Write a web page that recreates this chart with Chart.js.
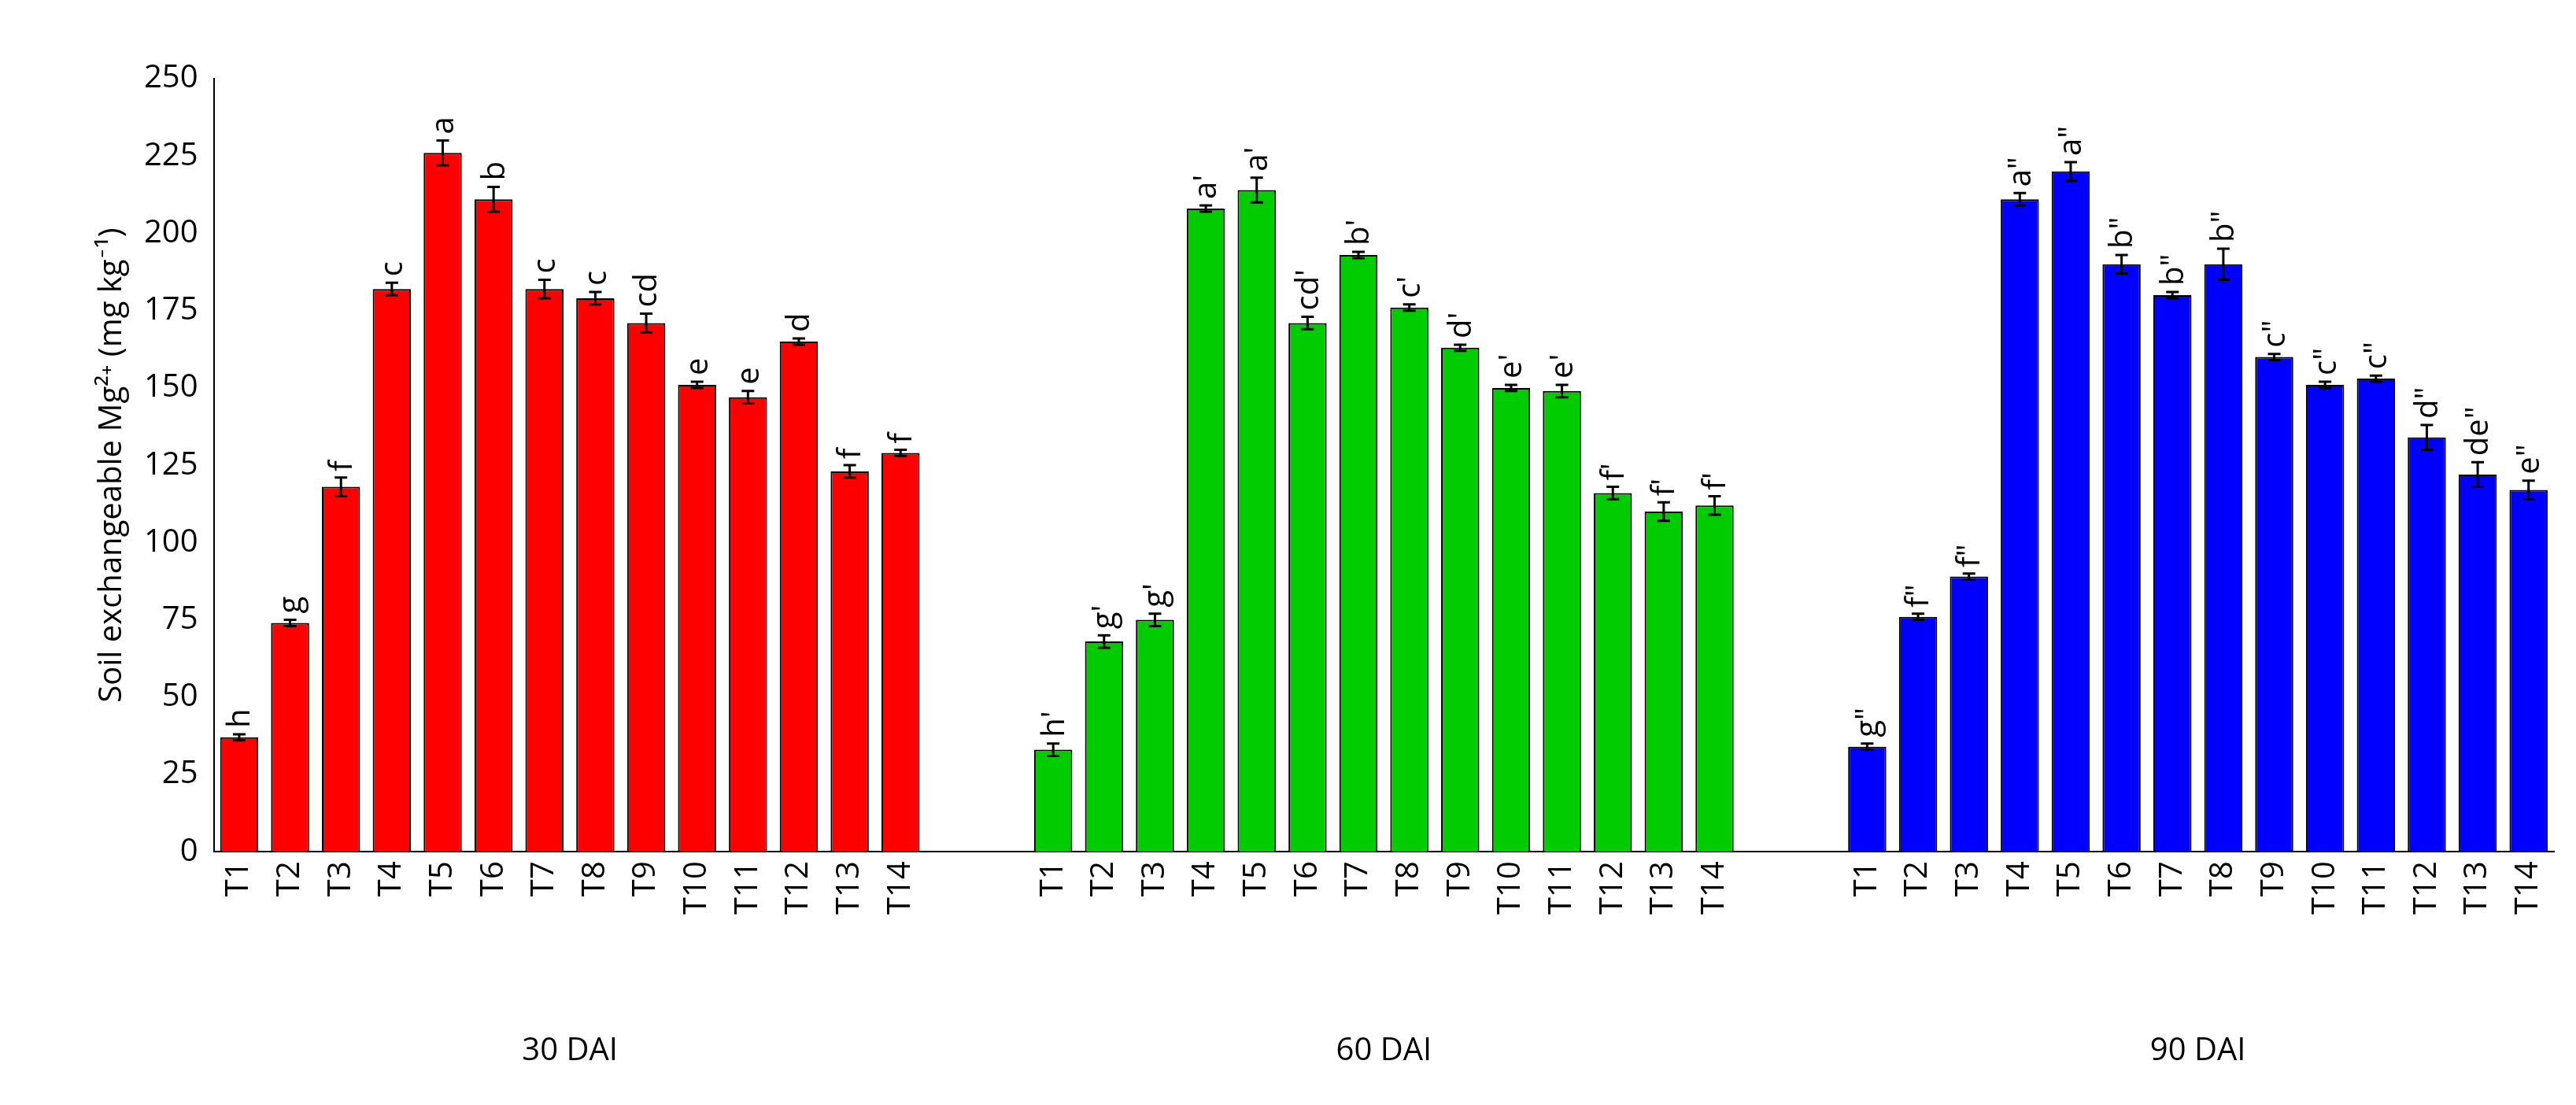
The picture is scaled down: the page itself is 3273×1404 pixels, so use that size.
<!DOCTYPE html>
<html><head><meta charset="utf-8">
<script src="https://cdn.jsdelivr.net/npm/chart.js@4"></script>
<style>html,body{margin:0;background:#fff}#w{width:3273px;height:1404px}</style>
</head><body><div id="w"><canvas id="c"></canvas></div>
<script>
const treatments=["T1","T2","T3","T4","T5","T6","T7","T8","T9","T10","T11","T12","T13","T14"];
const groups=["30 DAI","60 DAI","90 DAI"];
const v30=[37,74,118,182,226,211,182,179,171,151,147,165,123,129];
const e30=[1,1,3,2,4,4,3,2,3,1,2,1,2,1];
const l30=["h","g","f","c","a","b","c","c","cd","e","e","d","f","f"];
const v60=[33,68,75,208,214,171,193,176,163,150,149,116,110,112];
const e60=[2,2,2,1,4,2,1,1,1,1,2,2,3,3];
const l60=["h'","g'","g'","a'","a'","cd'","b'","c'","d'","e'","e'","f'","f'","f'"];
const v90=[34,76,89,211,220,190,180,190,160,151,153,134,122,117];
const e90=[1,1,1,2,3,3,1,5,1,1,1,4,4,3];
const l90=["g\"","f\"","f\"","a\"","a\"","b\"","b\"","b\"","c\"","c\"","c\"","d\"","de\"","e\""];
const colorsG=["#ff0000","#00cc00","#0000ff"];
const yTicks=[0,25,50,75,100,125,150,175,200,225,250];

const labels=[],vals=[],errs=[],lets=[],cols=[];
[[v30,e30,l30],[v60,e60,l60],[v90,e90,l90]].forEach((g,gi)=>{
  if(gi>0){for(let k=0;k<2;k++){labels.push("");vals.push(null);errs.push(null);lets.push("");cols.push("#fff");}}
  treatments.forEach((t,i)=>{labels.push(t);vals.push(g[0][i]);errs.push(g[1][i]);lets.push(g[2][i]);cols.push(colorsG[gi]);});
});
const F="'Open Sans', Calibri, sans-serif";
const extras={id:'extras',afterDatasetsDraw(ch){
  const c=ch.ctx,x=ch.scales.x,y=ch.scales.y;
  c.save();c.strokeStyle='#000';c.lineWidth=3;c.fillStyle='#000';
  vals.forEach((v,i)=>{if(v==null)return;
    const px=x.getPixelForValue(i),t=y.getPixelForValue(v+errs[i]),b=y.getPixelForValue(v-errs[i]);
    c.beginPath();c.moveTo(px,t);c.lineTo(px,b);c.moveTo(px-8,t);c.lineTo(px+8,t);c.moveTo(px-8,b);c.lineTo(px+8,b);c.stroke();
    c.save();c.translate(px+2,t-8);c.rotate(-Math.PI/2);c.font="40px "+F;c.textAlign='left';c.textBaseline='middle';c.fillText(lets[i],0,0);c.restore();
  });
  c.font="40px "+F;c.textAlign='center';c.textBaseline='middle';
  groups.forEach((g,gi)=>{const s=gi*16;const px=(x.getPixelForValue(s)+x.getPixelForValue(s+13))/2;c.fillText(g,px,1336);});
  c.restore();}};
new Chart(document.getElementById('c'),{type:'bar',
 data:{labels,datasets:[{data:vals,backgroundColor:cols,borderColor:'#000',borderWidth:2,barPercentage:0.75,categoryPercentage:1}]},
 options:{responsive:true,maintainAspectRatio:false,animation:false,
  layout:{padding:{top:100,right:25,bottom:230,left:115}},
  plugins:{legend:{display:false},tooltip:{enabled:false}},
  scales:{
   x:{grid:{display:false,drawTicks:false},border:{color:'#000',width:2},
      ticks:{color:'#000',font:{size:40,family:F},minRotation:90,maxRotation:90,autoSkip:false,padding:12}},
   y:{min:0,max:250,grid:{display:false},border:{color:'#000',width:2},
      afterBuildTicks(a){a.ticks=yTicks.map(v=>({value:v}));},
      ticks:{color:'#000',font:{size:40,family:F},padding:12},
      title:{display:true,text:'Soil exchangeable Mg²⁺ (mg kg⁻¹)',color:'#000',font:{size:40,family:F}}}
  }},plugins:[extras]});
</script></body></html>
